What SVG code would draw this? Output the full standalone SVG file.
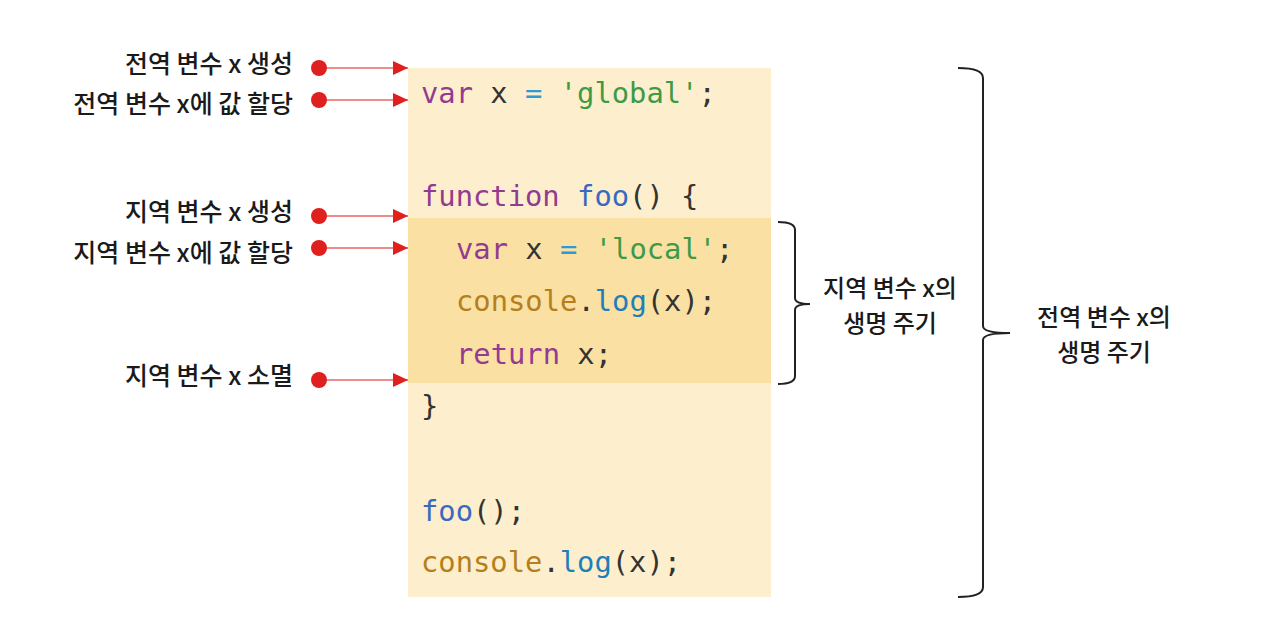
<svg xmlns="http://www.w3.org/2000/svg" width="1284" height="626" viewBox="0 0 1284 626">
<style>
.lbl{font-family:"Noto Sans CJK KR","Noto Sans",sans-serif;font-size:25px;font-weight:500;fill:#1a1a1a;text-anchor:end}
.cap{font-family:"Noto Sans CJK KR","Noto Sans",sans-serif;font-size:24px;font-weight:500;fill:#1a1a1a;text-anchor:middle}
.code{font-family:"DejaVu Sans Mono","Liberation Mono",monospace;font-size:28.8px;fill:#333;white-space:pre}
.kw{fill:#933b91}.str{fill:#3f9a46}.op{fill:#2b9ad6}.fn{fill:#3a69c0}.obj{fill:#b57f1c}.mt{fill:#1f7fb7}
.ln{stroke:#f08c8c;stroke-width:2;fill:none}
.dot{fill:#e01f1f}
.br{stroke:#222;stroke-width:2;fill:none}
</style>
<defs>
<marker id="ah" viewBox="0 0 15 14" refX="15" refY="7" markerWidth="15" markerHeight="14" markerUnits="userSpaceOnUse" orient="auto">
<path d="M0,0 L15,7 L0,14 Z" fill="#e01f1f"/>
</marker>
</defs>
<rect width="1284" height="626" fill="#fff"/>
<g id="code-block">
<rect x="408" y="68" width="363" height="529" fill="#fdefcd"/>
<rect x="408" y="218" width="363" height="165" fill="#fae0a3"/>
<text class="code" x="421" y="103"><tspan class="kw">var</tspan> x <tspan class="op">=</tspan> <tspan class="str">'global'</tspan>;</text>
<text class="code" x="421" y="206"><tspan class="kw">function</tspan> <tspan class="fn">foo</tspan>() {</text>
<text class="code" x="456" y="259"><tspan class="kw">var</tspan> x <tspan class="op">=</tspan> <tspan class="str">'local'</tspan>;</text>
<text class="code" x="456" y="311"><tspan class="obj">console</tspan>.<tspan class="mt">log</tspan>(x);</text>
<text class="code" x="456" y="364"><tspan class="kw">return</tspan> x;</text>
<text class="code" x="421" y="416">}</text>
<text class="code" x="421" y="521"><tspan class="fn">foo</tspan>();</text>
<text class="code" x="421" y="572"><tspan class="obj">console</tspan>.<tspan class="mt">log</tspan>(x);</text>
</g>
<g id="label-global-create"><text class="lbl" x="293" y="73">전역 변수 x 생성</text></g>
<g id="label-global-assign"><text class="lbl" x="293" y="113">전역 변수 x에 값 할당</text></g>
<g id="label-local-create"><text class="lbl" x="293" y="221">지역 변수 x 생성</text></g>
<g id="label-local-assign"><text class="lbl" x="293" y="262">지역 변수 x에 값 할당</text></g>
<g id="label-local-destroy"><text class="lbl" x="293" y="385">지역 변수 x 소멸</text></g>
<g id="local-lifecycle">
<path class="br" d="M778,222 Q795,222 795,230 L795,298 Q795,304 810,304 Q795,304 795,310 L795,376 Q795,384 778,384"/>
<text class="cap"><tspan x="890" y="297">지역 변수 x의</tspan><tspan x="890" y="332">생명 주기</tspan></text>
</g>
<g id="global-lifecycle">
<path class="br" d="M958,68 Q983,68 983,78 L983,326 Q983,333 1010,333 Q983,333 983,340 L983,587 Q983,597 958,597"/>
<text class="cap"><tspan x="1104" y="326">전역 변수 x의</tspan><tspan x="1104" y="361">생명 주기</tspan></text>
</g>
<g id="connectors">
<line class="ln" x1="319" y1="68" x2="408" y2="68" marker-end="url(#ah)"/>
<line class="ln" x1="319" y1="100" x2="408" y2="100" marker-end="url(#ah)"/>
<line class="ln" x1="319" y1="216" x2="408" y2="216" marker-end="url(#ah)"/>
<line class="ln" x1="319" y1="248" x2="408" y2="248" marker-end="url(#ah)"/>
<line class="ln" x1="319" y1="380" x2="408" y2="380" marker-end="url(#ah)"/>
<circle class="dot" cx="319" cy="68" r="8"/>
<circle class="dot" cx="319" cy="100" r="8"/>
<circle class="dot" cx="319" cy="216" r="8"/>
<circle class="dot" cx="319" cy="248" r="8"/>
<circle class="dot" cx="319" cy="380" r="8"/>
</g>
</svg>
